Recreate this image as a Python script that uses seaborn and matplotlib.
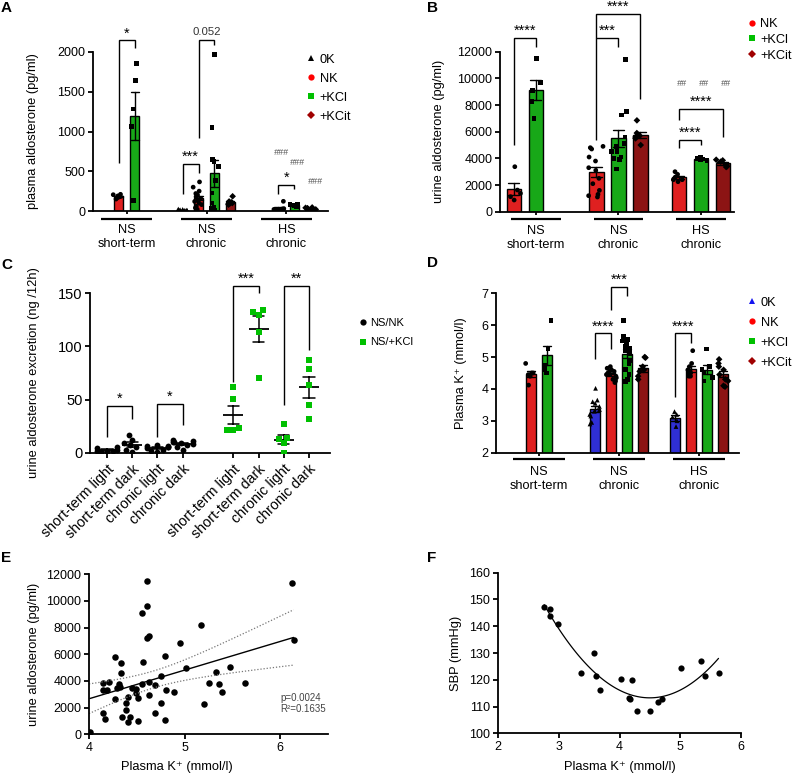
import warnings
warnings.filterwarnings("ignore")
import numpy as np
import pandas as pd
import matplotlib
matplotlib.use("Agg")
import matplotlib.pyplot as plt
import matplotlib.transforms as mtransforms
from matplotlib.lines import Line2D
import seaborn as sns

# ---------------- data ----------------
GROUPS = ["NS\nshort-term", "NS\nchronic", "HS\nchronic"]
TREATS = ["0K", "NK", "+KCl", "+KCit"]
TREAT_MARKERS = {"0K": "^", "NK": "o", "+KCl": "s", "+KCit": "D"}
COL_0K = "#1414f0"
COL_NK = "#ff0000"
COL_KCL = "#00c000"
COL_KCIT = "#a00000"

# Panel A: plasma aldosterone (pg/ml)
A_NS_ST_NK = [190, 205, 170, 180, 150, 210]
A_NS_ST_KCL = [1853, 1638, 1284, 1061, 135]
A_NS_CH_0K = [5, 10, 15, 20, 8, 12, 25, 10, 5]
A_NS_CH_NK = [366, 300, 250, 220, 200, 180, 160, 140, 120, 100, 80, 60, 40, 20]
A_NS_CH_KCL = [1966, 1048, 648, 619, 556, 387, 227, 100, 50, 30, 20, 10]
A_NS_CH_KCIT = [185, 120, 100, 90, 110, 80, 95]
A_HS_CH_NK = [122, 30, 20, 15, 25, 10, 20]
A_HS_CH_KCL = [80, 70, 75, 60, 85, 65]
A_HS_CH_KCIT = [40, 30, 20, 35, 25, 45]

# Panel B: urine aldosterone (pg/ml)
B_NS_ST_NK = [3375, 1625, 1125, 875, 1375]
B_NS_ST_KCL = [11500, 9700, 9100, 8250, 7000]
B_NS_CH_NK = [4900, 4800, 4700, 4100, 3800, 3300, 3100, 2500, 2100, 1600, 1300, 1200, 1100]
B_NS_CH_KCL = [11400, 7500, 7250, 5600, 5100, 4900, 4500, 4100, 3900, 3200, 4000, 4500]
B_NS_CH_KCIT = [6850, 5900, 5700, 5600, 5500, 5000]
B_HS_CH_NK = [3000, 2800, 2600, 2400, 2250, 2400]
B_HS_CH_KCL = [4050, 4000, 3950, 3900, 3850, 3950]
B_HS_CH_KCIT = [3900, 3850, 3750, 3500, 3400, 3350]

# Panel C: urine aldosterone excretion (ng/12h)
C_CATS = ["NK short-term light", "NK short-term dark", "NK chronic light", "NK chronic dark", "gap",
          "KCl short-term light", "KCl short-term dark", "KCl chronic light", "KCl chronic dark"]
C_TICKLABELS = ["short-term light", "short-term dark", "chronic light", "chronic dark",
                "short-term light", "short-term dark", "chronic light", "chronic dark"]
C_NK_ST_LIGHT = [4, 2, 1, 3, 5, 2, 1]
C_NK_ST_DARK = [16.6, 12, 9, 7, 2.5, 1, 5.6]
C_NK_CH_LIGHT = [7, 6, 5, 4, 3, 2, 5, 6, 1]
C_NK_CH_DARK = [12, 11, 10, 9, 8, 7, 5, 3, 10]
C_KCL_ST_LIGHT = [62, 51, 23, 21, 21]
C_KCL_ST_DARK = [134, 130, 132.7, 114, 70]
C_KCL_CH_LIGHT = [27, 12.5, 13.5, 9, 0]
C_KCL_CH_DARK = [87, 79, 64, 45, 32]

# Panel D: plasma K+ (mmol/l)
D_NS_ST_NK = [4.8, 4.5, 4.45, 4.4, 4.12, 4.5]
D_NS_ST_KCL = [6.14, 5.27, 4.75, 4.6, 4.5]
D_NS_CH_0K = [4.02, 3.65, 3.6, 3.55, 3.45, 3.35, 3.15, 2.95, 2.9, 3.3, 3.2]
D_NS_CH_NK = [4.7, 4.65, 4.6, 4.55, 4.5, 4.5, 4.45, 4.4, 4.35, 4.3, 4.25, 4.2, 4.55, 4.45]
D_NS_CH_KCL = [6.14, 5.64, 5.55, 5.5, 5.43, 5.35, 5.27, 5.12, 4.9, 4.8, 4.6, 4.45, 4.23, 4.3, 5.2]
D_NS_CH_KCIT = [5.0, 4.98, 4.7, 4.6, 4.4, 4.3, 4.55]
D_HS_CH_0K = [3.29, 3.2, 3.12, 3.0, 2.82]
D_HS_CH_NK = [5.2, 4.8, 4.7, 4.6, 4.55, 4.5, 4.45, 4.4, 4.4]
D_HS_CH_KCL = [5.25, 4.6, 4.5, 4.35, 4.25, 4.7]
D_HS_CH_KCIT = [4.93, 4.8, 4.7, 4.6, 4.45, 4.25, 4.07, 4.1, 4.3]

# Panel E: plasma K+ vs urine aldosterone
E_K = [4.01, 4.15, 4.17, 4.15, 4.15, 4.19, 4.21, 4.27, 4.27, 4.29,
       4.31, 4.33, 4.33, 4.32, 4.35, 4.39, 4.39, 4.41, 4.41, 4.43,
       4.45, 4.49, 4.49, 4.51, 4.51, 4.55, 4.55, 4.57, 4.61, 4.61,
       4.61, 4.63, 4.63, 4.63, 4.69, 4.69, 4.75, 4.75, 4.79, 4.79,
       4.81, 4.89, 4.95, 5.01, 5.17, 5.20, 5.25, 5.33, 5.36, 5.39,
       5.47, 5.63, 6.12, 6.14]
E_ALDO = [150, 1625, 1175, 3325, 3875, 3325, 3950, 5825, 2625, 3450,
          3775, 5375, 4575, 3575, 1325, 2375, 1825, 950, 2825, 1325,
          3450, 3375, 3125, 2700, 1025, 3775, 9075, 5450, 11500, 9625,
          7200, 7375, 3950, 2950, 3700, 1575, 4400, 2325, 5900, 1075,
          3325, 3200, 6825, 4950, 8175, 2300, 3875, 4700, 3775, 3150,
          5050, 3875, 11375, 7075]
E_STATS = "p=0.0024\nR\u00b2=0.1635"

# Panel F: plasma K+ vs SBP
F_K = [2.76, 2.86, 2.86, 2.99, 3.36, 3.58, 3.62, 3.68, 4.02, 4.16,
       4.18, 4.21, 4.28, 4.50, 4.63, 4.70, 5.01, 5.34, 5.40, 5.63]
F_SBP = [147.1, 146.5, 143.8, 140.8, 122.7, 130.1, 121.5, 116.1, 120.3, 113.3,
         113.0, 120.0, 108.2, 108.2, 111.8, 112.7, 124.5, 126.9, 121.3, 122.7]

# ---------------- style ----------------
sns.set_theme(style="ticks")
plt.rcParams["font.family"] = ["Liberation Sans", "DejaVu Sans"]
plt.rcParams["font.size"] = 9
plt.rcParams["axes.edgecolor"] = "black"
plt.rcParams["xtick.color"] = "black"
plt.rcParams["ytick.color"] = "black"
plt.rcParams["text.color"] = "black"
plt.rcParams["axes.labelcolor"] = "black"

W, H = 794, 775
fig = plt.figure(figsize=(W / 100, H / 100), dpi=100)


def add_ax(left, right, top, bottom):
    return fig.add_axes([left / W, 1 - bottom / H, (right - left) / W, (bottom - top) / H])


axA = add_ax(93, 328, 52, 211)
axB = add_ax(500, 734, 51.7, 211.7)
axC = add_ax(90, 330, 293.3, 452.7)
axD = add_ax(496, 739, 293.3, 452.7)
axE = add_ax(89, 328, 574.3, 734.3)
axF = add_ax(498, 741, 572.7, 733.3)


def style(ax, fs=9):
    sns.despine(ax=ax)
    for s in ("left", "bottom"):
        ax.spines[s].set_linewidth(1.3)
    ax.tick_params(width=1.3, length=3.5, labelsize=fs, pad=2)


def long_df(entries):
    rows = []
    for g, t, vals in entries:
        rows += [(g, t, v) for v in vals]
    return pd.DataFrame(rows, columns=["group", "treat", "value"])


def slot(g, t, hue_order):
    n = len(hue_order)
    offs = np.linspace(0, 0.8 - 0.8 / n, n)
    offs -= offs.mean()
    return g + offs[hue_order.index(t)]


def bar_panel(ax, df, hue_order, pal, gap, jitter):
    sns.barplot(data=df, x="group", y="value", hue="treat", order=GROUPS, hue_order=hue_order,
                palette=pal, errorbar="se", capsize=0.4,
                err_kws={"color": "black", "linewidth": 1.0},
                edgecolor="black", linewidth=1.0, width=0.8, gap=gap, legend=False, ax=ax)
    np.random.seed(3)
    for t in hue_order:
        sub = df[df.treat == t]
        if len(sub) == 0:
            continue
        sns.stripplot(data=sub, x="group", y="value", hue="treat", order=GROUPS, hue_order=hue_order,
                      palette={h: "black" for h in hue_order}, dodge=True, marker=TREAT_MARKERS[t],
                      size=3.4, linewidth=0, jitter=jitter, legend=False, ax=ax)


def group_axis(ax, uy, xoff=0.32, fs=9.2, pad=7):
    ax.set_xticks(range(len(GROUPS)))
    ax.set_xticklabels(GROUPS, fontsize=fs, linespacing=1.2)
    ax.tick_params(axis="x", length=2.5, pad=pad)
    trans = mtransforms.blended_transform_factory(ax.transData, ax.transAxes)
    for i in range(len(GROUPS)):
        ax.plot([i - xoff, i + xoff], [uy, uy], color="black", lw=1.6, transform=trans,
                clip_on=False, solid_capstyle="butt")
    ax.set_xlabel("")


def bracket(ax, x1, x2, ytop, y1, y2, text, fs=10.5, color="black", dy=0):
    ax.plot([x1, x1, x2, x2], [y1, ytop, ytop, y2], color="black", lw=1.0, clip_on=False,
            solid_capstyle="butt", solid_joinstyle="miter")
    ax.text((x1 + x2) / 2, ytop + dy, text, ha="center", va="bottom", fontsize=fs, color=color,
            clip_on=False)


def marker_legend(ax, labels, colors, markers, x, y, fs=9.2, ls=0.55, ms=4.5):
    handles = [Line2D([], [], linestyle="none", marker=m, color=c, markersize=ms,
                      markeredgewidth=0) for c, m in zip(colors, markers)]
    ax.legend(handles, labels, loc="upper left", bbox_to_anchor=(x, y), frameon=False,
              handlelength=0.7, handletextpad=0.3, labelspacing=ls, fontsize=fs,
              borderaxespad=0, borderpad=0)


# ---------------- Panel A ----------------
dfA = long_df([
    (GROUPS[0], "NK", A_NS_ST_NK), (GROUPS[0], "+KCl", A_NS_ST_KCL),
    (GROUPS[1], "0K", A_NS_CH_0K), (GROUPS[1], "NK", A_NS_CH_NK),
    (GROUPS[1], "+KCl", A_NS_CH_KCL), (GROUPS[1], "+KCit", A_NS_CH_KCIT),
    (GROUPS[2], "NK", A_HS_CH_NK), (GROUPS[2], "+KCl", A_HS_CH_KCL),
    (GROUPS[2], "+KCit", A_HS_CH_KCIT),
])
palA = {"0K": "black", "NK": COL_NK, "+KCl": COL_KCL, "+KCit": COL_KCIT}
bar_panel(axA, dfA, TREATS, palA, gap=0.38, jitter=0.28)
axA.set_xlim(-0.419, 2.519)
axA.set_ylim(0, 2000)
axA.set_yticks([0, 500, 1000, 1500, 2000])
axA.set_ylabel("plasma aldosterone (pg/ml)", fontsize=9.3)
axA.yaxis.set_label_coords(-0.228, 0.5)
style(axA)
group_axis(axA, uy=-0.05)
sA = lambda g, t: slot(g, t, TREATS)
bracket(axA, sA(0, "NK"), sA(0, "+KCl"), 2147, 598, 2050, "*")
bracket(axA, sA(1, "NK"), sA(1, "+KCl"), 2147, 914, 2093, "0.052", fs=8.2, color="#333333", dy=40)
bracket(axA, sA(1, "0K"), sA(1, "NK"), 590, 219, 472, "***")
bracket(axA, sA(2, "NK"), sA(2, "+KCl"), 324, 219, 282, "*")
for t, yv, dx in [("NK", 730, 0.04), ("+KCl", 604, 0.04), ("+KCit", 365, 0.06)]:
    axA.text(sA(2, t) + dx, yv, "###", ha="center", va="center", fontsize=6.5, color="#555555",
             style="italic")
marker_legend(axA, TREATS, ["black", COL_NK, COL_KCL, COL_KCIT],
              [TREAT_MARKERS[t] for t in TREATS], 0.91, 0.99)

# ---------------- Panel B ----------------
B_TREATS = ["NK", "+KCl", "+KCit"]
dfB = long_df([
    (GROUPS[0], "NK", B_NS_ST_NK), (GROUPS[0], "+KCl", B_NS_ST_KCL),
    (GROUPS[1], "NK", B_NS_CH_NK), (GROUPS[1], "+KCl", B_NS_CH_KCL),
    (GROUPS[1], "+KCit", B_NS_CH_KCIT),
    (GROUPS[2], "NK", B_HS_CH_NK), (GROUPS[2], "+KCl", B_HS_CH_KCL),
    (GROUPS[2], "+KCit", B_HS_CH_KCIT),
])
palB = {"NK": COL_NK, "+KCl": COL_KCL, "+KCit": COL_KCIT}
bar_panel(axB, dfB, B_TREATS, palB, gap=0.33, jitter=0.3)
axB.set_xlim(-0.436, 2.4)
axB.set_ylim(0, 12000)
axB.set_yticks(range(0, 12001, 2000))
axB.set_ylabel("urine aldosterone (pg/ml)", fontsize=9.3)
axB.yaxis.set_label_coords(-0.237, 0.5)
style(axB)
group_axis(axB, uy=-0.046, xoff=0.3)
sB = lambda g, t: slot(g, t, B_TREATS)
bracket(axB, sB(0, "NK"), sB(0, "+KCl"), 13050, 5000, 12375, "****")
bracket(axB, sB(1, "NK"), sB(1, "+KCit"), 14825, 13050, 8425, "****")
bracket(axB, sB(1, "NK"), sB(1, "+KCl"), 13050, 5375, 12375, "***")
bracket(axB, sB(2, "NK"), sB(2, "+KCit"), 7700, 6875, 5625, "****")
bracket(axB, sB(2, "NK"), sB(2, "+KCl"), 5375, 4750, 5000, "****")
for t in B_TREATS:
    axB.text(sB(2, t) + 0.03, 9625, "##", ha="center", va="center", fontsize=6.5,
             color="#555555", style="italic")
marker_legend(axB, B_TREATS, [COL_NK, COL_KCL, COL_KCIT],
              [TREAT_MARKERS[t] for t in B_TREATS], 1.058, 1.21, ls=0.3)

# ---------------- Panel C ----------------
dfC = long_df([
    (C_CATS[0], "NS/NK", C_NK_ST_LIGHT), (C_CATS[1], "NS/NK", C_NK_ST_DARK),
    (C_CATS[2], "NS/NK", C_NK_CH_LIGHT), (C_CATS[3], "NS/NK", C_NK_CH_DARK),
    (C_CATS[5], "NS/+KCl", C_KCL_ST_LIGHT), (C_CATS[6], "NS/+KCl", C_KCL_ST_DARK),
    (C_CATS[7], "NS/+KCl", C_KCL_CH_LIGHT), (C_CATS[8], "NS/+KCl", C_KCL_CH_DARK),
])
C_DIETS = ["NS/NK", "NS/+KCl"]
C_COLORS = {"NS/NK": "black", "NS/+KCl": COL_KCL}
C_MARKERS = {"NS/NK": "o", "NS/+KCl": "s"}
for d in C_DIETS:
    sns.swarmplot(data=dfC[dfC.treat == d], x="group", y="value", order=C_CATS,
                  color=C_COLORS[d], marker=C_MARKERS[d], size=4.2, linewidth=0, ax=axC)
sns.pointplot(data=dfC, x="group", y="value", order=C_CATS, color="black", errorbar="se",
              markers="_", markersize=15, markeredgewidth=1.3, linestyles="none",
              capsize=0.45, err_kws={"linewidth": 1.1}, ax=axC)
axC.set_xlim(-0.67, 8.83)
axC.set_ylim(0, 150)
axC.set_yticks([0, 50, 100, 150])
tick_pos = [i for i, c in enumerate(C_CATS) if c != "gap"]
axC.set_xticks(tick_pos)
axC.set_xticklabels(C_TICKLABELS, rotation=45, ha="right", rotation_mode="anchor", fontsize=10.3)
axC.set_xlabel("")
axC.set_ylabel("urine aldosterone excretion (ng /12h)", fontsize=9.3)
axC.yaxis.set_label_coords(-0.21, 0.5)
style(axC, fs=10.5)
axC.tick_params(axis="x", length=3.5, pad=3, labelsize=10.3)
bracket(axC, 0, 1, 44, 15, 32, "*")
bracket(axC, 2, 3, 46, 15, 26, "*")
bracket(axC, 5, 6, 157, 67, 150, "***")
bracket(axC, 7, 8, 157, 45, 97, "**")
marker_legend(axC, C_DIETS, [C_COLORS[d] for d in C_DIETS], [C_MARKERS[d] for d in C_DIETS],
              1.12, 0.845, fs=8.0, ls=0.85)

# ---------------- Panel D ----------------
dfD = long_df([
    (GROUPS[0], "NK", D_NS_ST_NK), (GROUPS[0], "+KCl", D_NS_ST_KCL),
    (GROUPS[1], "0K", D_NS_CH_0K), (GROUPS[1], "NK", D_NS_CH_NK),
    (GROUPS[1], "+KCl", D_NS_CH_KCL), (GROUPS[1], "+KCit", D_NS_CH_KCIT),
    (GROUPS[2], "0K", D_HS_CH_0K), (GROUPS[2], "NK", D_HS_CH_NK),
    (GROUPS[2], "+KCl", D_HS_CH_KCL), (GROUPS[2], "+KCit", D_HS_CH_KCIT),
])
palD = {"0K": COL_0K, "NK": COL_NK, "+KCl": COL_KCL, "+KCit": COL_KCIT}
bar_panel(axD, dfD, TREATS, palD, gap=0.38, jitter=0.28)
axD.set_xlim(-0.5375, 2.5)
axD.set_ylim(2, 7)
axD.set_yticks([2, 3, 4, 5, 6, 7])
axD.set_ylabel("Plasma K\u207a (mmol/l)", fontsize=9.3)
axD.yaxis.set_label_coords(-0.121, 0.5)
style(axD)
group_axis(axD, uy=-0.04)
sD = lambda g, t: slot(g, t, TREATS)
bracket(axD, sD(1, "NK"), sD(1, "+KCl"), 7.19, 6.48, 6.92, "***")
bracket(axD, sD(1, "0K"), sD(1, "NK"), 5.74, 4.93, 5.26, "****")
bracket(axD, sD(2, "0K"), sD(2, "NK"), 5.74, 3.76, 5.43, "****")
marker_legend(axD, TREATS, [COL_0K, COL_NK, COL_KCL, COL_KCIT],
              [TREAT_MARKERS[t] for t in TREATS], 1.037, 0.977, ls=0.62)

# ---------------- Panel E ----------------
sns.scatterplot(x=E_K, y=E_ALDO, color="black", s=22, linewidth=0, ax=axE)
sns.regplot(x=E_K, y=E_ALDO, scatter=False, ci=None, truncate=True, color="black",
            line_kws={"linewidth": 1.0}, ax=axE)
xk = np.asarray(E_K, float)
ya = np.asarray(E_ALDO, float)
slope, icpt = np.polyfit(xk, ya, 1)
n = len(xk)
s_res = np.sqrt(np.sum((ya - (slope * xk + icpt)) ** 2) / (n - 2))
xg = np.linspace(4.0, xk.max(), 100)
se = s_res * np.sqrt(1 / n + (xg - xk.mean()) ** 2 / np.sum((xk - xk.mean()) ** 2))
for sign in (-1, 1):
    axE.plot(xg, slope * xg + icpt + sign * 2.007 * se, ls=(0, (1, 1.5)), color="#777777", lw=0.9)
axE.set_xlim(4, 6.5)
axE.set_ylim(0, 12000)
axE.set_xticks([4, 5, 6])
axE.set_yticks(range(0, 12001, 2000))
axE.set_xlabel("Plasma K\u207a (mmol/l)", fontsize=9.3)
axE.set_ylabel("urine aldosterone (pg/ml)", fontsize=9.3)
axE.yaxis.set_label_coords(-0.207, 0.5)
axE.xaxis.set_label_coords(0.368, -0.169)
style(axE)
axE.text(6.0, 2300, E_STATS, fontsize=7, color="#444444", ha="left", va="center", linespacing=1.2)

# ---------------- Panel F ----------------
sns.scatterplot(x=F_K, y=F_SBP, color="black", s=20, linewidth=0, ax=axF)
sns.regplot(x=F_K, y=F_SBP, order=2, scatter=False, ci=None, truncate=True, color="black",
            line_kws={"linewidth": 0.9}, ax=axF)
axF.set_xlim(2, 6)
axF.set_ylim(100, 160)
axF.set_xticks([2, 3, 4, 5, 6])
axF.set_yticks(range(100, 161, 10))
axF.set_xlabel("Plasma K\u207a (mmol/l)", fontsize=9.3)
axF.set_ylabel("SBP (mmHg)", fontsize=9.3)
axF.yaxis.set_label_coords(-0.150, 0.5)
axF.xaxis.set_label_coords(0.502, -0.172)
style(axF)

# ---------------- panel letters ----------------
for letter, (px, py) in {"A": (6, 8), "B": (433, 8), "C": (7, 265), "D": (432, 263),
                         "E": (6, 558), "F": (432, 558)}.items():
    fig.text(px / W, 1 - py / H, letter, fontsize=11, fontweight="bold", ha="center", va="center")

fig.savefig("out.png", dpi=100)
